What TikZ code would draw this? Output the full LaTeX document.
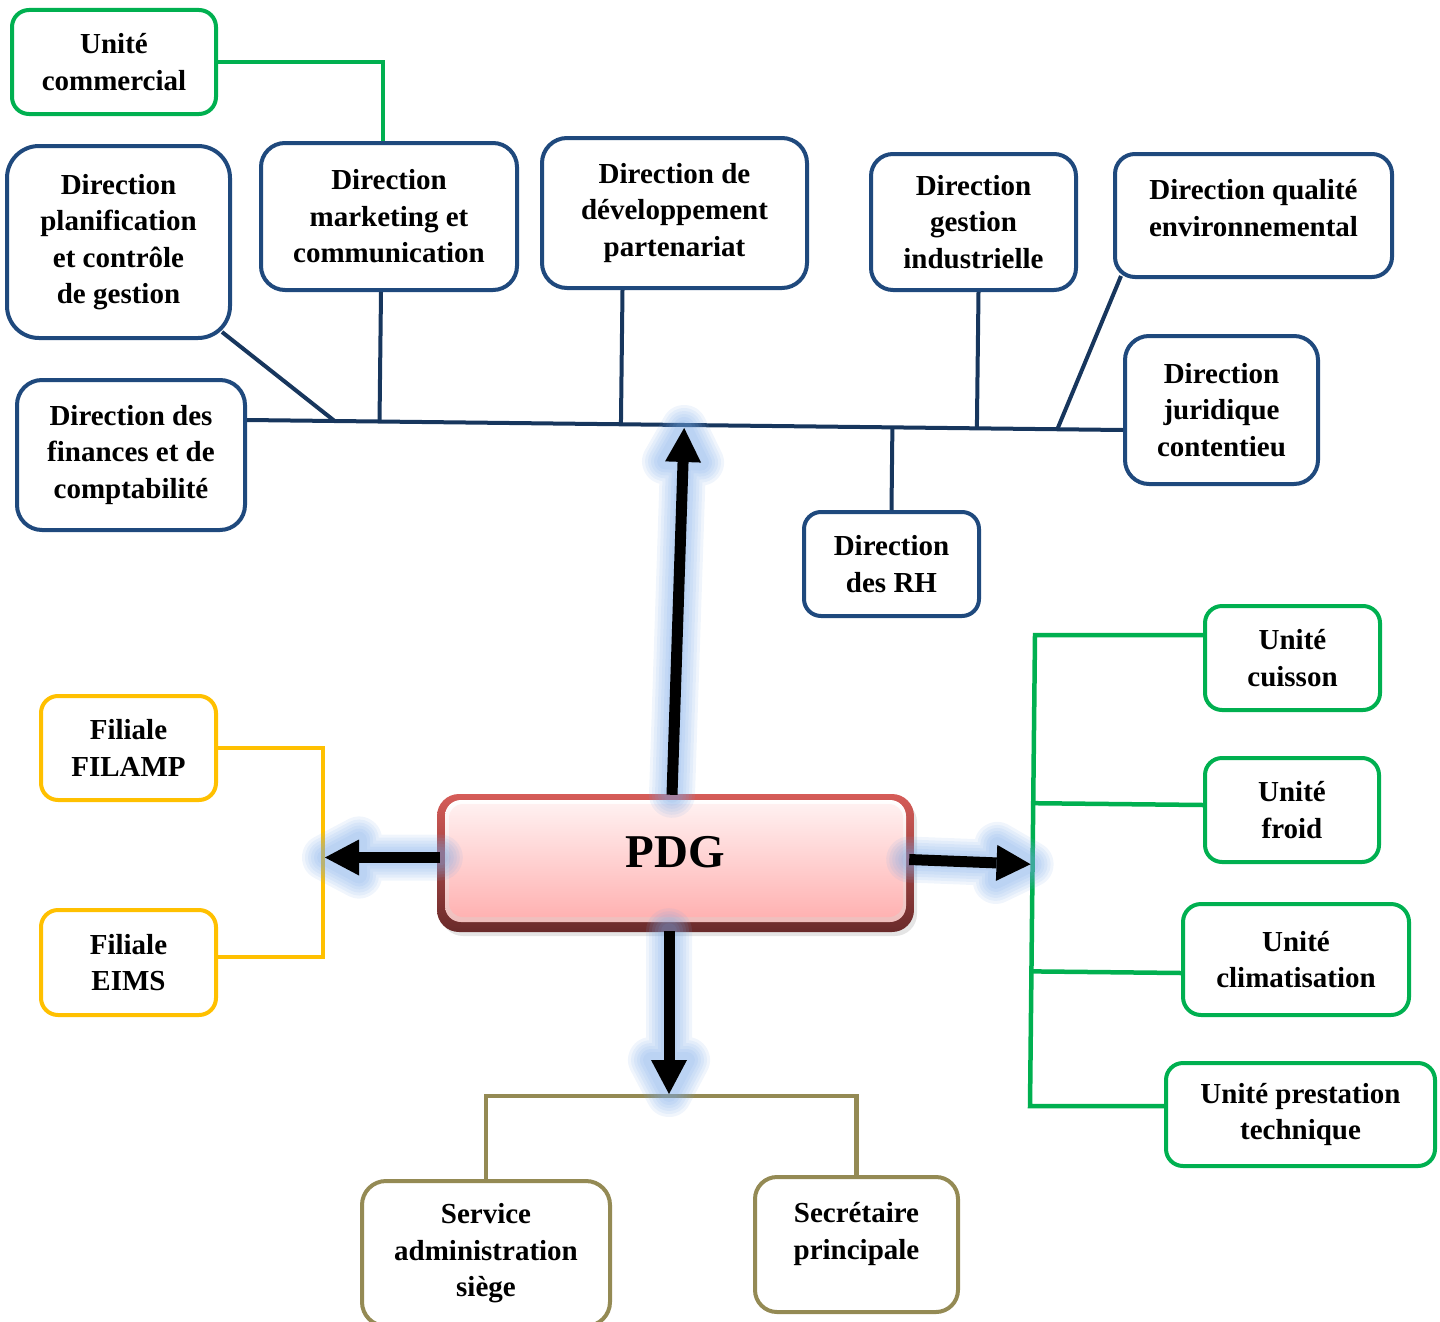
\documentclass[tikz,border=0pt]{standalone}
\usepackage{fontspec}
\setmainfont{Liberation Serif}
\usetikzlibrary{calc}

\definecolor{boxblue}{RGB}{31,73,125}
\definecolor{lineblue}{RGB}{23,54,93}
\definecolor{unitgreen}{RGB}{0,176,80}
\definecolor{filgold}{RGB}{255,192,0}
\definecolor{olive}{RGB}{148,138,84}
\definecolor{glowblue}{RGB}{120,168,232}
\definecolor{pdgtop}{RGB}{214,92,88}
\definecolor{pdgbot}{RGB}{105,42,42}
\definecolor{pinktop}{RGB}{255,240,240}
\definecolor{pinkbot}{RGB}{255,178,178}

\tikzset{
  txt/.style={font=\bfseries\fontsize{29}{36.5}\selectfont, align=center, inner sep=0pt},
  orgbox/.style={txt, draw=#1, line width=4pt, fill=white},
  bluebox/.style={orgbox=boxblue},
  greenbox/.style={orgbox=unitgreen},
  goldbox/.style={orgbox=filgold},
  olivebox/.style={orgbox=olive},
  bline/.style={draw=lineblue, line width=4pt},
  gline/.style={draw=unitgreen, line width=4.5pt},
  yline/.style={draw=filgold, line width=4.5pt},
  oline/.style={draw=olive, line width=4.5pt},
  glowpath/.style={draw=glowblue, line join=round, line cap=round},
}

% thick black arrow with a soft blue halo; #1 = start, #2 = tip
\newcommand\haloarrow[2]{%
  \coordinate (hb) at ($(#2)!34pt!(#1)$);
  \coordinate (hl) at ($(hb)!18pt!90:(#2)$);
  \coordinate (hr) at ($(hb)!18pt!-90:(#2)$);
  \foreach \w in {46,40,34,28,22,16}{
    \draw[glowpath, line width=\w pt, opacity=0.11] (#1) -- (hb) (hl) -- (#2) -- (hr) -- cycle;
  }
  \draw[line width=11pt, black] (#1) -- (hb);
  \fill[black] (hl) -- (#2) -- (hr) -- cycle;
}

\begin{document}
\begin{tikzpicture}[x=1pt, y=-1pt]
\useasboundingbox (0,0) rectangle (1440,1322);
\clip (0,0) rectangle (1440,1322);

% ---------- directions (blue) ----------
\node[bluebox, minimum width=223, minimum height=192, rounded corners=32] (plan) at (118.5,242)
  {Direction\\planification\\et contrôle\\de gestion};
\node[bluebox, minimum width=256, minimum height=147, rounded corners=24] (mkt) at (389,216.5)
  {Direction\\marketing et\\communication};
\node[bluebox, minimum width=265, minimum height=150, rounded corners=25] (dev) at (674.5,213)
  {Direction de\\développement\\partenariat};
\node[bluebox, minimum width=205, minimum height=136, rounded corners=22] (gest) at (973.5,222)
  {Direction\\gestion\\industrielle};
\node[bluebox, minimum width=277, minimum height=123, rounded corners=20] (qual) at (1253.5,215.5) {};
\node[txt] (qualt) at (1253.5,208) {Direction qualité\\environnemental};
\node[bluebox, minimum width=193, minimum height=148, rounded corners=24] (jur) at (1221.5,410)
  {Direction\\juridique\\contentieu};
\node[bluebox, minimum width=175, minimum height=104, rounded corners=17] (rh) at (891.5,564)
  {Direction\\des RH};
\node[bluebox, minimum width=228, minimum height=150, rounded corners=25] (fin) at (131,455)
  {Direction des\\finances et de\\comptabilité};

% ---------- units (green) ----------
\node[greenbox, minimum width=204, minimum height=104, rounded corners=17] (com) at (114,62)
  {Unité\\commercial};
\node[greenbox, minimum width=175, minimum height=104, rounded corners=17] (cuis) at (1292.5,658)
  {Unité\\cuisson};
\node[greenbox, minimum width=174, minimum height=104, rounded corners=17] (froid) at (1292,810)
  {Unité\\froid};
\node[greenbox, minimum width=226, minimum height=111, rounded corners=18] (clim) at (1296,959.5)
  {Unité\\climatisation};
\node[greenbox, minimum width=269, minimum height=103, rounded corners=17] (prest) at (1300.5,1114.5)
  {Unité prestation\\technique};

% ---------- subsidiaries (gold) ----------
\node[goldbox, minimum width=175, minimum height=104, rounded corners=17] (filamp) at (128.5,748)
  {Filiale\\FILAMP};
\node[goldbox, minimum width=175, minimum height=105, rounded corners=17] (eims) at (128.5,962.5)
  {Filiale\\EIMS};

% ---------- head office (olive) ----------
\node[olivebox, minimum width=248, minimum height=145, rounded corners=24] (serv) at (486,1253.5)
  {Service\\administration\\siège};
\node[olivebox, minimum width=203, minimum height=135, rounded corners=22] (sec) at (856.5,1244.5) {};
\node[txt] (sect) at (856.5,1234) {Secrétaire\\principale};

% ---------- blue bus ----------
\coordinate (busA) at ($(fin.east)+(0,-35)$);
\coordinate (busB) at ($(jur.west)+(0,20)$);
\draw[bline] (busA) -- (busB);
\draw[bline] ($(plan.south east)+(-10,-8)$) -- ($(busA)!0.10!(busB)$);
\draw[bline] ($(mkt.south)+(-8,0)$) -- ($(busA)!($(mkt.south)+(-8,0)$)!(busB)$);
\draw[bline] ($(dev.south)+(-52,0)$) -- ($(busA)!($(dev.south)+(-52,0)$)!(busB)$);
\draw[bline] ($(gest.south)+(5,0)$) -- ($(busA)!($(gest.south)+(5,0)$)!(busB)$);
\draw[bline] ($(qual.south west)+(8,-3)$) -- ($(busA)!0.925!(busB)$);
\draw[bline] (rh.north) -- ($(busA)!(rh.north)!(busB)$);

% ---------- green links ----------
\coordinate (mkin) at ($(mkt.north)+(-6,0)$);
\draw[gline] (com.east) -- (mkin |- com.east) -- (mkin);
\coordinate (gtop) at (1035,635);
\coordinate (gbot) at (1030,1106);
\draw[gline] ($(cuis.west)+(0,-23)$) -- (gtop) -- (gbot) -- ($(prest.west)+(0,-8.5)$);
\draw[gline] ($(gtop)!($(froid.west)+(0,-5)$)!(gbot)$) -- ($(froid.west)+(0,-5)$);
\draw[gline] ($(gtop)!($(clim.west)+(0,13.5)$)!(gbot)$) -- ($(clim.west)+(0,13.5)$);

% ---------- gold links ----------
\coordinate (ytop) at (323,748);
\coordinate (ybot) at (323,957);
\draw[yline] ($(filamp.east)+(-4,0)$) -- (ytop) -- (ybot) -- ($(eims.east)+(-2,-5.5)$);

% ---------- olive links ----------
\coordinate (otl) at ($(serv.north)+(0,-83)$);
\coordinate (otr) at ($(sec.north)+(0,-79)$);
\draw[oline] (serv.north) -- (otl) -- (otr) -- (sec.north);

% ---------- PDG ----------
\fill[black!20, opacity=0.5, rounded corners=22] (441,800) rectangle (917,936);
\shade[top color=pdgtop, bottom color=pdgbot, rounded corners=22] (437,794) rectangle (914,932);
\shade[top color=white, bottom color=pdgtop!40, rounded corners=16] (445,800) rectangle (906,922);
\shade[top color=pinktop, bottom color=pinkbot, rounded corners=14] (449,804) rectangle (903,917);
\node[inner sep=0pt, minimum width=477, minimum height=138] (pdg) at (675.5,863) {};
\node[inner sep=0pt, font=\bfseries\fontsize{47}{50}\selectfont] (pdgt) at (675.5,852) {PDG};

% ---------- arrows from the PDG ----------
\haloarrow{$(pdg.north)+(-3.5,1)$}{$(busA)!($(pdg.north)+(4.5,0)$)!(busB)+(0,3)$}
\haloarrow{$(pdg.west)+(3,-5.5)$}{$(ytop)!($(pdg.west)+(0,-5.5)$)!(ybot)+(2,0)$}
\haloarrow{$(pdg.east)+(-5,-3.5)$}{$(gtop)!(pdg.east)!(gbot)+(-2,0)$}
\haloarrow{$(pdg.south)+(-6.5,-1)$}{$(otl)!($(pdg.south)+(-6.5,0)$)!(otr)+(0,-2)$}

\end{tikzpicture}
\end{document}
